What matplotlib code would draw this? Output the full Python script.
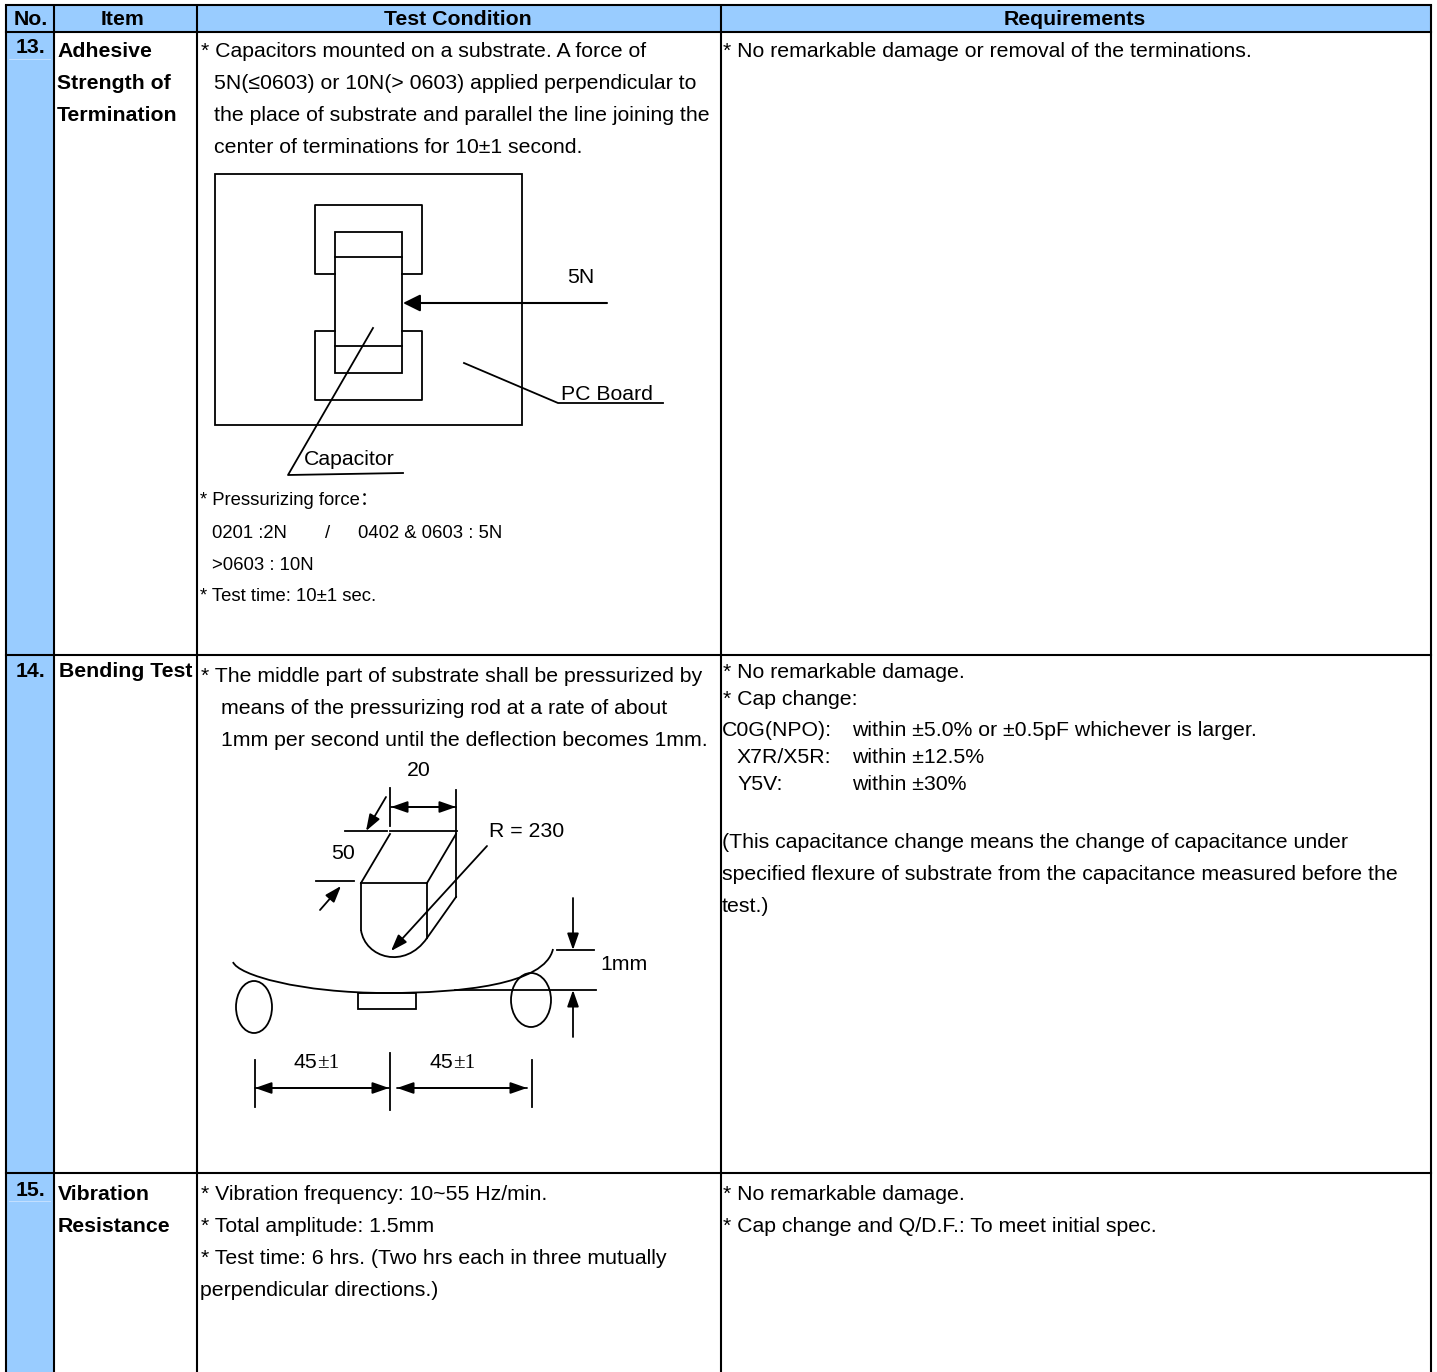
import matplotlib
matplotlib.use('Agg')
import matplotlib.pyplot as plt
from matplotlib.patches import Ellipse, PathPatch, Rectangle
from matplotlib.path import Path

plt.rcParams['font.family'] = ['Liberation Sans', 'Noto Sans CJK SC', 'DejaVu Sans']

# table grid, in pixels of the page
col_edges = [6, 54, 197, 721, 1431]
row_edges = [5, 32, 654.5, 1172.5, 1372]
headers = ['No.', 'Item', 'Test Condition', 'Requirements']
header_x = [30.5, 123, 458, 1075]
numbers = ['13.', '14.', '15.']
number_y = [53, 677, 1196]
# faint rules left under the 13. and 15. cells
faint_y = [59, 1201]

item_lines = ['Adhesive', 'Strength of', 'Termination', 'Bending Test', 'Vibration', 'Resistance']
item_x = [57, 57, 57, 59, 58, 58]
item_y = [57, 89, 121, 677, 1200, 1232]

cond_lines = ['* Capacitors mounted on a substrate. A force of',
              '5N(≤0603) or 10N(> 0603) applied perpendicular to',
              'the place of substrate and parallel the line joining the',
              'center of terminations for 10±1 second.',
              '* The middle part of substrate shall be pressurized by',
              'means of the pressurizing rod at a rate of about',
              '1mm per second until the deflection becomes 1mm.',
              '* Vibration frequency: 10~55 Hz/min.',
              '* Total amplitude: 1.5mm',
              '* Test time: 6 hrs. (Two hrs each in three mutually',
              'perpendicular directions.)']
cond_x = [201, 214, 214, 214, 201, 221, 221, 201, 201, 201, 200]
cond_y = [57, 89, 121, 153, 682, 714, 746, 1200, 1232, 1264, 1296]

small_lines = ['* Pressurizing force：', '0201 :2N', '/', '0402 & 0603 : 5N', '>0603 : 10N', '* Test time: 10±1 sec.']
small_x = [200, 212, 325, 358, 212, 200]
small_y = [505, 538, 538, 538, 570, 601]

req_lines = ['* No remarkable damage or removal of the terminations.',
             '* No remarkable damage.', '* Cap change:',
             'C0G(NPO):', 'within ±5.0% or ±0.5pF whichever is larger.',
             'X7R/X5R:', 'within ±12.5%', 'Y5V:', 'within ±30%',
             '(This capacitance change means the change of capacitance under',
             'specified flexure of substrate from the capacitance measured before the',
             'test.)',
             '* No remarkable damage.', '* Cap change and Q/D.F.: To meet initial spec.']
req_x = [723, 723, 723, 722, 852, 737, 852, 737, 852, 722, 722, 722, 723, 723]
req_y = [57, 678, 705, 736, 736, 763, 763, 790, 790, 848, 880, 912, 1200, 1232]

# first diagram
board_rect = [215, 174, 307, 251]
chip_rect = [335, 232, 67, 141]
pad_top_x = [335, 315, 315, 422, 422, 402]
pad_top_y = [274, 274, 205, 205, 274, 274]
pad_bot_x = [335, 315, 315, 422, 422, 402]
pad_bot_y = [331, 331, 400, 400, 331, 331]
chip_bands_y = [257, 346]
pc_leader_x = [464, 558, 663]
pc_leader_y = [363, 403, 403]
cap_leader_x = [373, 288, 403]
cap_leader_y = [328, 475, 473]
fig1_labels = ['5N', 'PC Board', 'Capacitor']
fig1_label_x = [567, 561, 304]
fig1_label_y = [283, 400, 465]

# second diagram
plain_lines = [([390, 390], [788, 826]), ([456, 456], [790, 897]), ([345, 387], [831, 831]),
               ([390, 457], [831, 831]), ([316, 354], [881, 881]), ([361, 427], [883, 883]),
               ([361, 390], [883, 834]), ([427, 456], [883, 834]), ([456, 427], [897, 938]),
               ([427, 427], [883, 938]), ([361, 361], [883, 930]), ([455, 596], [990, 990]),
               ([557, 594], [950, 950]),
               ([255, 255], [1060, 1107]), ([390, 390], [1053, 1110]), ([532, 532], [1060, 1107])]
arrows = [(391, 807, 456, 807), (456, 807, 391, 807), (386, 797, 366, 831), (320, 910, 341, 886),
          (487, 846, 391, 951), (573, 898, 573, 950), (573, 1037, 573, 990),
          (389, 1088, 255, 1088), (255, 1088, 389, 1088), (527, 1088, 397, 1088), (397, 1088, 527, 1088)]
block_curve_x = [361, 365, 405, 427]
block_curve_y = [930, 958, 970, 938]
plate_curve_x = [233, 238, 300, 387, 460, 545, 553]
plate_curve_y = [962, 975, 993, 993, 993, 985, 949]
support_rect = [358, 993, 58, 16]
rollers = [(254, 1007, 36, 52), (531, 1000, 40, 54)]
fig2_labels = ['20', '50', 'R = 230', '1mm', '45', '45']
fig2_label_x = [407, 331, 489, 600, 294, 430]
fig2_label_y = [776, 859, 837, 970, 1068, 1068]
pm_labels = ['±1', '±1']
pm_x = [317, 453]
pm_y = [1068, 1068]

W, H = 1437, 1372
fig = plt.figure(figsize=(W / 100, H / 100), dpi=100)
ax = fig.add_axes([0, 0, 1, 1])
ax.set_xlim(0, W)
ax.set_ylim(H, 0)
ax.axis('off')

BLUE = '#99ccff'
TXT = 15.35
SMALL = 13.35
LW = 1.3

# fills
ax.add_patch(Rectangle((col_edges[0], row_edges[0]), col_edges[-1] - col_edges[0], row_edges[1] - row_edges[0],
                       fc=BLUE, ec='none'))
ax.add_patch(Rectangle((col_edges[0], row_edges[1]), col_edges[1] - col_edges[0], row_edges[-1] - row_edges[1],
                       fc=BLUE, ec='none'))
for y in faint_y:
    ax.plot([col_edges[0] + 3, col_edges[1] - 4], [y, y], color='#c4e0ff', lw=0.7)

# grid
for x in col_edges:
    ax.plot([x, x], [row_edges[0], row_edges[-1]], color='k', lw=1.5, solid_capstyle='butt')
for y in row_edges[:-1]:
    ax.plot([col_edges[0], col_edges[-1]], [y, y], color='k', lw=1.5, solid_capstyle='projecting')

# header and left columns
for s, x in zip(headers, header_x):
    ax.text(x, 25, s, ha='center', va='baseline', fontsize=TXT, fontweight='bold')
for s, y in zip(numbers, number_y):
    ax.text(16, y, s, va='baseline', fontsize=TXT, fontweight='bold')
for s, x, y in zip(item_lines, item_x, item_y):
    ax.text(x, y, s, va='baseline', fontsize=TXT, fontweight='bold')

for lines, xs, ys in [(cond_lines, cond_x, cond_y), (req_lines, req_x, req_y)]:
    for s, x, y in zip(lines, xs, ys):
        ax.text(x, y, s, va='baseline', fontsize=TXT)
for s, x, y in zip(small_lines, small_x, small_y):
    ax.text(x, y, s, va='baseline', fontsize=SMALL)


def box(rect):
    ax.add_patch(Rectangle(rect[:2], rect[2], rect[3], fc='none', ec='k', lw=LW))


def curve(xs, ys):
    # chain of cubic beziers
    verts = list(zip(xs, ys))
    codes = [Path.MOVETO] + [Path.CURVE4] * (len(verts) - 1)
    ax.add_patch(PathPatch(Path(verts, codes), fc='none', ec='k', lw=LW))


# first diagram
box(board_rect)
box(chip_rect)
ax.plot(pad_top_x, pad_top_y, color='k', lw=LW)
ax.plot(pad_bot_x, pad_bot_y, color='k', lw=LW)
for y in chip_bands_y:
    ax.plot([chip_rect[0], chip_rect[0] + chip_rect[2]], [y, y], color='k', lw=LW)
ax.plot(pc_leader_x, pc_leader_y, color='k', lw=LW)
ax.plot(cap_leader_x, cap_leader_y, color='k', lw=LW)
ax.annotate('', xy=(403, 303), xytext=(607, 303),
            arrowprops=dict(arrowstyle='-|>,head_length=1.05,head_width=0.52', color='k', lw=1.5, shrinkA=0, shrinkB=0))
for s, x, y in zip(fig1_labels, fig1_label_x, fig1_label_y):
    ax.text(x, y, s, va='baseline', fontsize=TXT)

# second diagram
for xs, ys in plain_lines:
    ax.plot(xs, ys, color='k', lw=LW)
for x0, y0, x1, y1 in arrows:
    ax.annotate('', xy=(x1, y1), xytext=(x0, y0),
                arrowprops=dict(arrowstyle='-|>,head_length=1.0,head_width=0.35', color='k', lw=1.3, shrinkA=0, shrinkB=0))
curve(block_curve_x, block_curve_y)
curve(plate_curve_x, plate_curve_y)
box(support_rect)
for cx, cy, w, h in rollers:
    ax.add_patch(Ellipse((cx, cy), w, h, fc='none', ec='k', lw=LW))
for s, x, y in zip(fig2_labels, fig2_label_x, fig2_label_y):
    ax.text(x, y, s, va='baseline', fontsize=TXT)
for s, x, y in zip(pm_labels, pm_x, pm_y):
    ax.text(x, y, s, va='baseline', fontsize=TXT, family='Liberation Serif')

fig.savefig('out.png', dpi=100)
